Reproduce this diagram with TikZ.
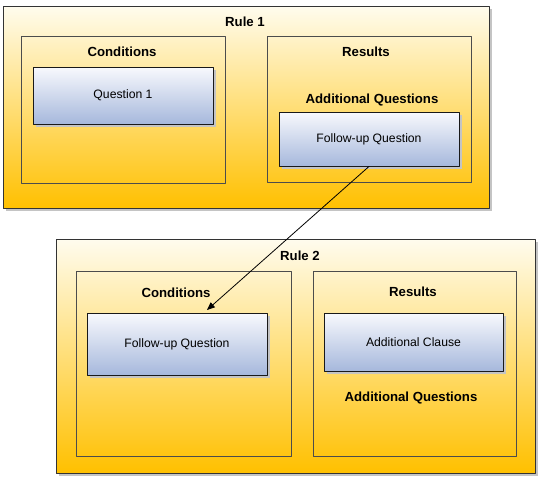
\documentclass[tikz,border=0pt]{standalone}
\usepackage{fontspec}
\setmainfont{Liberation Sans}
\usetikzlibrary{arrows,shadows}

\definecolor{creamtop}{HTML}{FFFCEE}
\definecolor{ambbot}{HTML}{FFC000}
\definecolor{bluetop}{HTML}{F8F9FD}
\definecolor{bluebot}{HTML}{A6B8DC}
\definecolor{shadowgray}{HTML}{C4C4C4}

\tikzset{
  rulebox/.style={draw=black!80,line width=0.9pt,top color=creamtop,bottom color=ambbot,
    drop shadow={shadow xshift=3pt,shadow yshift=-3pt,fill=shadowgray,opacity=1}},
  partbox/.style={draw=black!70,line width=0.8pt},
  qbox/.style={draw=black!90,line width=0.9pt,top color=bluetop,bottom color=bluebot,
    drop shadow={shadow xshift=3pt,shadow yshift=-3pt,fill=shadowgray,opacity=1},
    font=\fontsize{12.2}{14}\selectfont},
  head/.style={font=\bfseries\fontsize{13.2}{15}\selectfont}
}

\begin{document}
\begin{tikzpicture}[x=1pt,y=-1pt,line cap=round,line join=round,>=triangle 45]
        \useasboundingbox (0,0) rectangle (542,479);
        % rule 1
        \node[rulebox,minimum width=486pt,minimum height=202pt] (rule1) at (246,107) {};
        \node[head] (rule1lbl) at (245,22) {Rule 1};
        \node[partbox,minimum width=204pt,minimum height=147pt] (cond1) at (123,109.5) {};
        \node[head] (cond1lbl) at (122,52) {Conditions};
        \node[qbox,minimum width=180pt,minimum height=57pt] (quest1) at (123,95.5) {Question 1};
        \node[partbox,minimum width=204pt,minimum height=146pt] (res1) at (369,109) {};
        \node[head] (res1lbl) at (366,52) {Results};
        \node[head] (addq1) at (372,100) {Additional Questions};
        \node[qbox,minimum width=180pt,minimum height=54pt] (follow1) at (369,139) {Follow-up Question};
        % rule 2
        \node[rulebox,minimum width=479pt,minimum height=234pt] (rule2) at (295.5,356) {};
        \node[head] (rule2lbl) at (300,256) {Rule 2};
        \node[partbox,minimum width=215pt,minimum height=185pt] (cond2) at (183.5,363.5) {};
        \node[head] (cond2lbl) at (176,293) {Conditions};
        \node[qbox,minimum width=180pt,minimum height=62pt] (follow2) at (177,344) {Follow-up Question};
        \node[partbox,minimum width=203pt,minimum height=185pt] (res2) at (414.5,363.5) {};
        \node[head] (res2lbl) at (413,292) {Results};
        \node[qbox,minimum width=179pt,minimum height=58pt] (clause2) at (413.5,342) {Additional Clause};
        \node[head] (addq2) at (411,398) {Additional Questions};
        % link
        \coordinate (tip) at (207,310);
        \draw[->,line width=0.8pt] (follow1.south) -- (tip);
    \end{tikzpicture}
\end{document}
